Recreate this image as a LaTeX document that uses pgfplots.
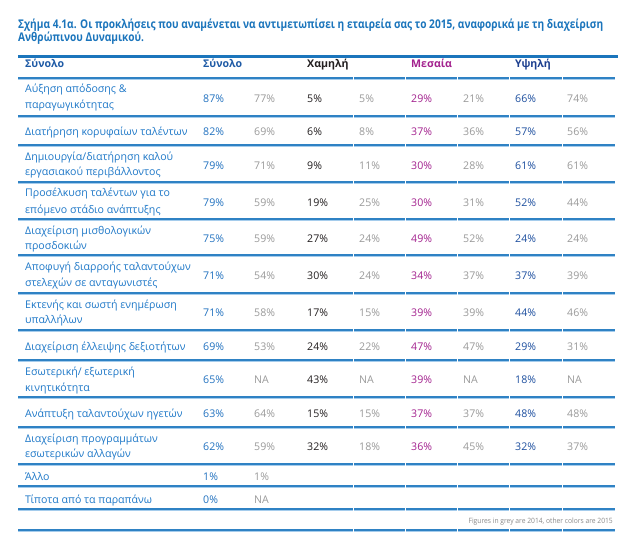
\documentclass[border=0pt]{standalone}
\usepackage{pgfplots}
\pgfplotsset{compat=1.18}
\usepackage{fontspec}
\setmainfont{Open Sans}
\newfontfamily\titlefont[FakeStretch=0.845]{Open Sans}
\newfontfamily\footfont[FakeStretch=0.92]{Open Sans}
\definecolor{titleblue}{HTML}{1B75BC}
\definecolor{labelblue}{HTML}{1E78C8}
\definecolor{rulec}{HTML}{2F82C4}
\definecolor{rulelight}{HTML}{A5CCEC}
\definecolor{hdrblue}{HTML}{1F5BA6}
\definecolor{darkc}{HTML}{231F20}
\definecolor{purp}{HTML}{A3218E}
\definecolor{s15c}{HTML}{2272C0}
\definecolor{hiblue}{HTML}{1D4F9F}
\definecolor{hihdr}{HTML}{1C3F8F}
\definecolor{grey14}{HTML}{9A9A9A}
\definecolor{footgrey}{HTML}{8A8A8A}
\newcommand{\vf}{\fontsize{10.6bp}{12bp}\selectfont}
\newcommand{\hf}{\bfseries\fontsize{10.6bp}{12bp}\selectfont}
\newcommand{\lab}[2]{\node[anchor=base west, inner sep=0pt, text=labelblue, font=\vf] at (axis cs:25,#1) {#2};}
\begin{document}
\begin{tikzpicture}
\begin{axis}[
  scale only axis, width=636bp, height=553bp,
  xmin=0, xmax=636, ymin=0, ymax=553, y dir=reverse,
  hide axis, clip=false,
  val/.style={draw=none, nodes near coords={\pgfplotspointmeta\%}, point meta=explicit symbolic,
     nodes near coords style={anchor=base west, inner sep=0pt, font=\vf, text=#1}},
  na/.style={draw=none, nodes near coords={\pgfplotspointmeta}, point meta=explicit symbolic,
     nodes near coords style={anchor=base west, inner sep=0pt, font=\vf, text=#1}},
]
\fill[white] (axis cs:0,0) rectangle (axis cs:636,553);
% title
\node[anchor=base west, inner sep=0pt, text=titleblue, font=\titlefont\bfseries\fontsize{12bp}{13bp}\selectfont] at (axis cs:18,29) {Σχήμα 4.1α. Οι προκλήσεις που αναμένεται να αντιμετωπίσει η εταιρεία σας το 2015, αναφορικά με τη διαχείριση};
\node[anchor=base west, inner sep=0pt, text=titleblue, font=\titlefont\bfseries\fontsize{12bp}{13bp}\selectfont] at (axis cs:18,42) {Ανθρώπινου Δυναμικού.};
\draw[titleblue, line width=2.2bp] (axis cs:18,56.5) -- (axis cs:618,56.5);
% rules
\pgfplotsinvokeforeach{78,116,145,182,219,255,293,330,360,397,427,464,486,509,530}{
  \draw[rulec, line width=1.2bp] (axis cs:18,#1) -- (axis cs:615,#1);
  \draw[rulelight, line width=1bp] (axis cs:18,#1+1.1) -- (axis cs:615,#1+1.1);
  \draw[white, line width=0.9bp] (axis cs:353,#1-1) -- (axis cs:353,#1+2);
  \draw[white, line width=0.9bp] (axis cs:405,#1-1) -- (axis cs:405,#1+2);
  \draw[white, line width=0.9bp] (axis cs:457,#1-1) -- (axis cs:457,#1+2);
  \draw[white, line width=0.9bp] (axis cs:509,#1-1) -- (axis cs:509,#1+2);
  \draw[white, line width=0.9bp] (axis cs:562,#1-1) -- (axis cs:562,#1+2);
}
% header
\node[anchor=base west, inner sep=0pt, text=hdrblue, font=\hf] at (axis cs:25,68) {Σύνολο};
\node[anchor=base west, inner sep=0pt, text=hdrblue, font=\hf] at (axis cs:203,68) {Σύνολο};
\node[anchor=base west, inner sep=0pt, text=darkc, font=\hf] at (axis cs:307,68) {Χαμηλή};
\node[anchor=base west, inner sep=0pt, text=purp, font=\hf] at (axis cs:411,68) {Μεσαία};
\node[anchor=base west, inner sep=0pt, text=hihdr, font=\hf] at (axis cs:515,68) {Υψηλή};
% row labels
\lab{92.3}{Αύξηση απόδοσης \&}
\lab{108.3}{παραγωγικότητας}
\lab{135}{Διατήρηση κορυφαίων ταλέντων}
\lab{160.3}{Δημιουργία/διατήρηση καλού}
\lab{175.7}{εργασιακού περιβάλλοντος}
\lab{196.7}{Προσέλκυση ταλέντων για το}
\lab{213}{επόμενο στάδιο ανάπτυξης}
\lab{234.3}{Διαχείριση μισθολογικών}
\lab{249.3}{προσδοκιών}
\lab{270.7}{Αποφυγή διαρροής ταλαντούχων}
\lab{286.7}{στελεχών σε ανταγωνιστές}
\lab{308}{Εκτενής και σωστή ενημέρωση}
\lab{323.3}{υπαλλήλων}
\lab{350}{Διαχείριση έλλειψης δεξιοτήτων}
\lab{375}{Εσωτερική/ εξωτερική}
\lab{391}{κινητικότητα}
\lab{417}{Ανάπτυξη ταλαντούχων ηγετών}
\lab{442.3}{Διαχείριση προγραμμάτων}
\lab{457.7}{εσωτερικών αλλαγών}
\lab{480}{Άλλο}
\lab{503}{Τίποτα από τα παραπάνω}
% values
\addplot[val=s15c] coordinates {(203,102)[87] (203,135)[82] (203,169)[79] (203,206)[79] (203,242)[75] (203,279)[71] (203,316)[71] (203,350)[69] (203,383)[65] (203,417)[63] (203,450)[62] (203,480)[1] (203,503)[0]};
\addplot[val=grey14] coordinates {(254,102)[77] (254,135)[69] (254,169)[71] (254,206)[59] (254,242)[59] (254,279)[54] (254,316)[58] (254,350)[53] (254,417)[64] (254,450)[59] (254,480)[1]};
\addplot[val=darkc] coordinates {(307,102)[5] (307,135)[6] (307,169)[9] (307,206)[19] (307,242)[27] (307,279)[30] (307,316)[17] (307,350)[24] (307,383)[43] (307,417)[15] (307,450)[32]};
\addplot[val=grey14] coordinates {(359,102)[5] (359,135)[8] (359,169)[11] (359,206)[25] (359,242)[24] (359,279)[24] (359,316)[15] (359,350)[22] (359,417)[15] (359,450)[18]};
\addplot[val=purp] coordinates {(411,102)[29] (411,135)[37] (411,169)[30] (411,206)[30] (411,242)[49] (411,279)[34] (411,316)[39] (411,350)[47] (411,383)[39] (411,417)[37] (411,450)[36]};
\addplot[val=grey14] coordinates {(463,102)[21] (463,135)[36] (463,169)[28] (463,206)[31] (463,242)[52] (463,279)[37] (463,316)[39] (463,350)[47] (463,417)[37] (463,450)[45]};
\addplot[val=hiblue] coordinates {(515,102)[66] (515,135)[57] (515,169)[61] (515,206)[52] (515,242)[24] (515,279)[37] (515,316)[44] (515,350)[29] (515,383)[18] (515,417)[48] (515,450)[32]};
\addplot[val=grey14] coordinates {(567,102)[74] (567,135)[56] (567,169)[61] (567,206)[44] (567,242)[24] (567,279)[39] (567,316)[46] (567,350)[31] (567,417)[48] (567,450)[37]};
\addplot[na=grey14] coordinates {(254,383)[NA] (254,503)[NA] (359,383)[NA] (463,383)[NA] (567,383)[NA]};
% footer
\node[anchor=base east, inner sep=0pt, text=footgrey, font=\footfont\fontsize{7.3bp}{9bp}\selectfont] at (axis cs:613,523) {Figures in grey are 2014, other colors are 2015};
\end{axis}
\end{tikzpicture}
\end{document}
